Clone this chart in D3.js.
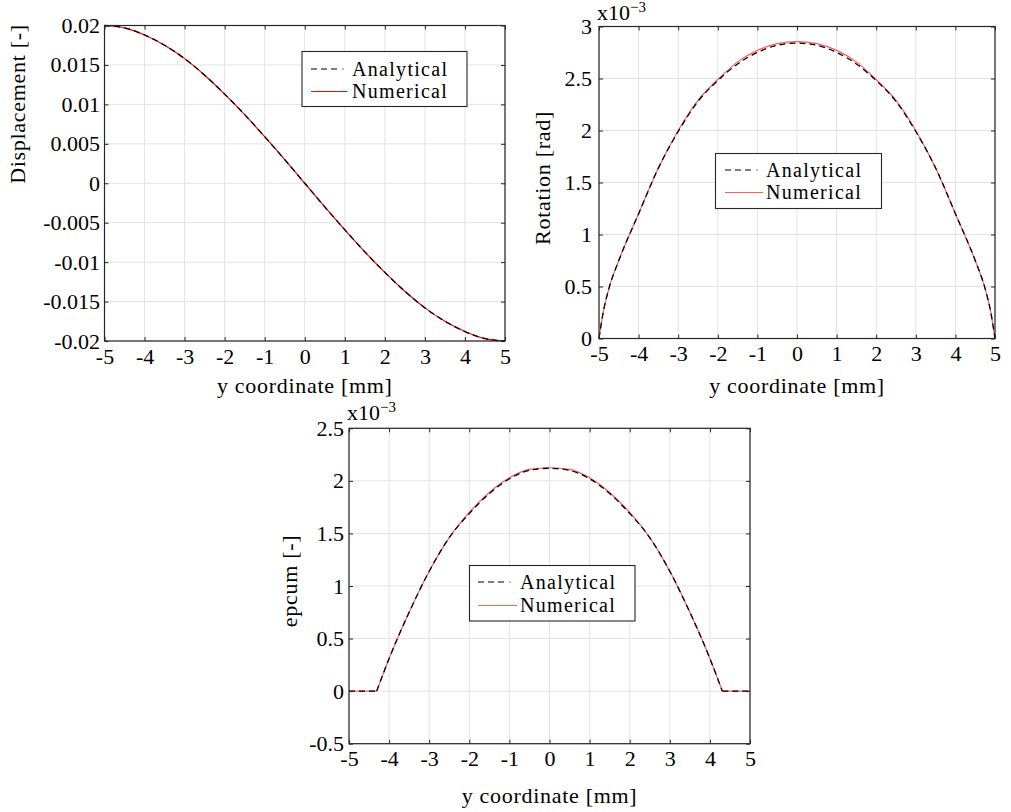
<!DOCTYPE html>
<html>
<head>
<meta charset="utf-8">
<script src="https://cdn.jsdelivr.net/npm/d3@7/dist/d3.min.js"></script>
<style>
  html, body { margin: 0; padding: 0; background: #fff; }
  svg { display: block; }
</style>
</head>
<body>
<svg id="fig" width="1011" height="812"></svg>
<script>
// ---- data -------------------------------------------------------------
// Displacement [-] along y
const dispY = [-5, -4.5, -4, -3.5, -3, -2.5, -2, -1.5, -1, -0.5, 0, 0.5, 1, 1.5, 2, 2.5, 3, 3.5, 4, 4.5, 5];
const dispAnalytical = [0.0200, 0.0197, 0.0188, 0.0175, 0.0158, 0.0137, 0.0113, 0.0087, 0.0059, 0.0030, 0,
  -0.0030, -0.0059, -0.0087, -0.0113, -0.0137, -0.0158, -0.0175, -0.0188, -0.0197, -0.0200];
const dispNumerical = [0.0200, 0.0197, 0.0188, 0.0175, 0.0158, 0.0137, 0.0113, 0.0087, 0.0059, 0.0030, 0,
  -0.0030, -0.0059, -0.0087, -0.0113, -0.0137, -0.0158, -0.0175, -0.0188, -0.0197, -0.0200];

// Rotation [rad] along y
const rotY = [-5, -4.9, -4.75, -4.5, -4, -3.5, -3, -2.5, -2, -1.5, -1, -0.5, 0, 0.5, 1, 1.5, 2, 2.5, 3, 3.5, 4, 4.5, 4.75, 4.9, 5];
const rotAnalytical = [0, 0.00024, 0.00048, 0.00075, 0.00120, 0.00164, 0.00199, 0.00228, 0.00248, 0.00264, 0.00275, 0.00282, 0.00284,
  0.00282, 0.00275, 0.00264, 0.00248, 0.00228, 0.00199, 0.00164, 0.00120, 0.00075, 0.00048, 0.00024, 0];
const rotNumerical = [0, 0.00024, 0.00048, 0.00075, 0.00120, 0.00164, 0.00200, 0.00229, 0.00249, 0.00266, 0.00277, 0.002835, 0.002855,
  0.002835, 0.00277, 0.00266, 0.00249, 0.00229, 0.00200, 0.00164, 0.00120, 0.00075, 0.00048, 0.00024, 0];

// Cumulated plastic strain epcum [-] along y
const epY = [-5, -4.6, -4.31, -4, -3.5, -3, -2.5, -2, -1.5, -1, -0.5, 0, 0.5, 1, 1.5, 2, 2.5, 3, 3.5, 4, 4.31, 4.6, 5];
const epAnalytical = [0, 0, 0, 0.00031, 0.00075, 0.00114, 0.00146, 0.00169, 0.00188, 0.00202, 0.00210, 0.00212,
  0.00210, 0.00202, 0.00188, 0.00169, 0.00146, 0.00114, 0.00075, 0.00031, 0, 0, 0];
const epNumerical = [0, 0, 0, 0.00031, 0.00075, 0.00114, 0.00146, 0.00170, 0.00189, 0.00203, 0.00211, 0.002125,
  0.00211, 0.00203, 0.00189, 0.00170, 0.00146, 0.00114, 0.00075, 0.00031, 0, 0, 0];

// Tick values and labels
const xTicks = [-5, -4, -3, -2, -1, 0, 1, 2, 3, 4, 5];
const xTickLabels = ["-5", "-4", "-3", "-2", "-1", "0", "1", "2", "3", "4", "5"];
const dispTicks = [-0.02, -0.015, -0.01, -0.005, 0, 0.005, 0.01, 0.015, 0.02];
const dispTickLabels = ["-0.02", "-0.015", "-0.01", "-0.005", "0", "0.005", "0.01", "0.015", "0.02"];
const rotTicks = [0, 0.0005, 0.001, 0.0015, 0.002, 0.0025, 0.003];
const rotTickLabels = ["0", "0.5", "1", "1.5", "2", "2.5", "3"];
const epTicks = [-0.0005, 0, 0.0005, 0.001, 0.0015, 0.002, 0.0025];
const epTickLabels = ["-0.5", "0", "0.5", "1", "1.5", "2", "2.5"];

const seriesNames = ["Analytical", "Numerical"];

// ---- drawing ----------------------------------------------------------
const FONT = "'Liberation Serif', 'Times New Roman', serif";
const FS = 22;
const LEGEND_FS = 20;
const WORD_SPACING = "0.7px";   // letter spacing for word labels
const AXIS_COLOR = "#262626";
const GRID_COLOR = "#e3e3e3";
const DASH = "6,4";
const svg = d3.select("#fig");

// Split a series into zero-valued tails (straight) and the curved middle
function segments(xs, ys) {
  const pts = xs.map((v, i) => [v, ys[i]]);
  const first = ys.findIndex(v => v !== 0);
  const last = ys.length - 1 - [...ys].reverse().findIndex(v => v !== 0);
  if (first <= 0 || last >= ys.length - 1) return [{ pts, curved: true }];
  return [
    { pts: pts.slice(0, first), curved: false },
    { pts: pts.slice(first - 1, last + 2), curved: true },
    { pts: pts.slice(last + 1), curved: false }
  ];
}

function drawPanel(cfg) {
  const x = d3.scaleLinear().domain([-5, 5]).range([cfg.left, cfg.right]);
  const y = d3.scaleLinear().domain(cfg.yDomain).range([cfg.bottom, cfg.top]);
  const g = svg.append("g");
  const w = cfg.right - cfg.left, h = cfg.bottom - cfg.top;

  g.append("rect").attr("x", cfg.left).attr("y", cfg.top)
    .attr("width", w).attr("height", h).attr("fill", "#fff");

  // grid
  g.append("g").selectAll("line").data(xTicks).join("line")
    .attr("x1", d => x(d)).attr("x2", d => x(d))
    .attr("y1", cfg.top).attr("y2", cfg.bottom)
    .attr("stroke", GRID_COLOR).attr("stroke-width", 1);
  g.append("g").selectAll("line").data(cfg.yTicks).join("line")
    .attr("x1", cfg.left).attr("x2", cfg.right)
    .attr("y1", d => y(d)).attr("y2", d => y(d))
    .attr("stroke", GRID_COLOR).attr("stroke-width", 1);

  // curves: numerical underneath, analytical dashed on top
  const smooth = d3.line().x(d => x(d[0])).y(d => y(d[1])).curve(d3.curveMonotoneX);
  const straight = d3.line().x(d => x(d[0])).y(d => y(d[1]));
  const drawSeries = (vals, color, width, dash) => {
    segments(cfg.xs, vals).forEach(seg => {
      const p = g.append("path").datum(seg.pts)
        .attr("d", seg.curved ? smooth : straight).attr("fill", "none")
        .attr("stroke", color).attr("stroke-width", width);
      if (dash) p.attr("stroke-dasharray", dash);
    });
  };
  drawSeries(cfg.num, cfg.red, 1.2, null);
  drawSeries(cfg.ana, "#000", 1.3, DASH);

  // axes (ticks pointing inward on all four sides)
  const styleAxis = sel => {
    sel.select(".domain").remove();
    sel.selectAll(".tick line").attr("stroke", AXIS_COLOR);
    sel.selectAll(".tick text").attr("fill", "#000")
      .style("font-family", FONT).style("font-size", FS + "px");
  };
  g.append("g").attr("transform", `translate(0,${cfg.bottom})`)
    .call(d3.axisBottom(x).tickValues(xTicks).tickSizeInner(-4).tickSizeOuter(0).tickPadding(7)
      .tickFormat((d, i) => xTickLabels[i]))
    .call(styleAxis);
  g.append("g").attr("transform", `translate(0,${cfg.top})`)
    .call(d3.axisTop(x).tickValues(xTicks).tickSizeInner(-4).tickSizeOuter(0).tickFormat(""))
    .call(styleAxis);
  g.append("g").attr("transform", `translate(${cfg.left},0)`)
    .call(d3.axisLeft(y).tickValues(cfg.yTicks).tickSizeInner(-4).tickSizeOuter(0).tickPadding(cfg.yPad)
      .tickFormat((d, i) => cfg.yTickLabels[i]))
    .call(styleAxis);
  g.append("g").attr("transform", `translate(${cfg.right},0)`)
    .call(d3.axisRight(y).tickValues(cfg.yTicks).tickSizeInner(-4).tickSizeOuter(0).tickFormat(""))
    .call(styleAxis);

  // frame
  g.append("rect").attr("x", cfg.left).attr("y", cfg.top)
    .attr("width", w).attr("height", h)
    .attr("fill", "none").attr("stroke", AXIS_COLOR).attr("stroke-width", 1.2);

  // axis labels
  g.append("text").attr("x", (cfg.left + cfg.right) / 2).attr("y", cfg.xLabelY)
    .attr("text-anchor", "middle").style("font-family", FONT).style("font-size", FS + "px")
    .style("letter-spacing", WORD_SPACING)
    .text("y coordinate [mm]");
  g.append("text")
    .attr("transform", `translate(${cfg.yLabelX},${cfg.yLabelCY}) rotate(-90)`)
    .attr("text-anchor", "middle").style("font-family", FONT).style("font-size", FS + "px")
    .style("letter-spacing", WORD_SPACING)
    .text(cfg.yLabel);

  // exponent marker
  if (cfg.exponent) {
    const t = g.append("text").attr("x", cfg.left - 2).attr("y", cfg.top - cfg.expGap)
      .style("font-family", FONT).style("font-size", FS + "px");
    t.append("tspan").text("x10");
    t.append("tspan").attr("dy", -8).style("font-size", "15px").text("\u22123");
  }

  // legend
  const L = cfg.legend;
  g.append("rect").attr("x", L.x0).attr("y", L.y0)
    .attr("width", L.x1 - L.x0).attr("height", L.y1 - L.y0)
    .attr("fill", "#fff").attr("stroke", AXIS_COLOR).attr("stroke-width", 1.1);
  g.append("line").attr("x1", L.s0).attr("x2", L.s1).attr("y1", L.r1).attr("y2", L.r1)
    .attr("stroke", "#000").attr("stroke-width", 1.2).attr("stroke-dasharray", "6,4,6,4,6,5.5,1,100");
  g.append("line").attr("x1", L.s0).attr("x2", L.s1).attr("y1", L.r2).attr("y2", L.r2)
    .attr("stroke", cfg.red).attr("stroke-width", 1.2);
  [L.r1, L.r2].forEach((ry, i) => {
    g.append("text").attr("x", L.tx).attr("y", ry).attr("dy", "0.33em")
      .style("font-family", FONT).style("font-size", LEGEND_FS + "px")
      .style("letter-spacing", "1.3px").text(seriesNames[i]);
  });
}

drawPanel({
  left: 104.5, right: 505, top: 25.5, bottom: 341,
  yDomain: [-0.02, 0.02], yTicks: dispTicks, yTickLabels: dispTickLabels, yPad: 4.5,
  xs: dispY, ana: dispAnalytical, num: dispNumerical, red: "#ff0000",
  yLabel: "Displacement [-]", yLabelX: 25, yLabelCY: 104, xLabelY: 393,
  exponent: false,
  legend: { x0: 302, y0: 51.5, x1: 467, y1: 106.5, s0: 311, s1: 347.5, tx: 352, r1: 69, r2: 91.5 }
});

drawPanel({
  left: 599, right: 995, top: 26.5, bottom: 338.5,
  yDomain: [0, 0.003], yTicks: rotTicks, yTickLabels: rotTickLabels, yPad: 7,
  xs: rotY, ana: rotAnalytical, num: rotNumerical, red: "#ff5c5c",
  yLabel: "Rotation [rad]", yLabelX: 550, yLabelCY: 178, xLabelY: 393,
  exponent: true, expGap: 7,
  legend: { x0: 715.5, y0: 153.5, x1: 881.5, y1: 208.5, s0: 725, s1: 763, tx: 766, r1: 170, r2: 192.5 }
});

drawPanel({
  left: 349, right: 750, top: 428.3, bottom: 743.7,
  yDomain: [-0.0005, 0.0025], yTicks: epTicks, yTickLabels: epTickLabels, yPad: 5,
  xs: epY, ana: epAnalytical, num: epNumerical, red: "#ff5c5c",
  yLabel: "epcum [-]", yLabelX: 297, yLabelCY: 581, xLabelY: 803,
  exponent: true, expGap: 8,
  legend: { x0: 469.5, y0: 565.5, x1: 635, y1: 621, s0: 478, s1: 517, tx: 520, r1: 582, r2: 605.5 }
});
</script>
</body>
</html>
